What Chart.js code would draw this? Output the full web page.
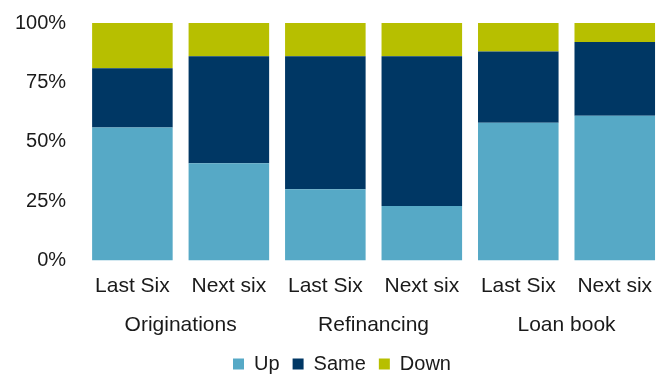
<!DOCTYPE html>
<html>
<head>
<meta charset="utf-8">
<script src="https://cdn.jsdelivr.net/npm/chart.js@4"></script>
<style>
  html, body { margin: 0; padding: 0; background: #fff; }
  #wrap { width: 668px; height: 374px; }
</style>
</head>
<body>
<div id="wrap"><canvas id="barChart"></canvas></div>
<script>
const periods = ['Last Six', 'Next six', 'Last Six', 'Next six', 'Last Six', 'Next six'];
const groups = ['Originations', 'Refinancing', 'Loan book'];
const upValues = [56, 41, 30, 23, 58, 61];
const sameValues = [25, 45, 56, 63, 30, 31];
const downValues = [19, 14, 14, 14, 12, 8];
const yTicks = [0, 25, 50, 75, 100];

Chart.defaults.font.family = '"Liberation Sans", Arial, sans-serif';
Chart.defaults.font.size = 20;
Chart.defaults.color = '#1a1a1a';

// nudge the legend a little to the right of centre
const legendShift = {
    id: 'legendShift',
    afterLayout(chart) {
        const lg = chart.legend;
        lg.left += 12;
        lg.right += 12;
    }
};

const ctxBar = document.getElementById('barChart').getContext('2d');
new Chart(ctxBar, {
    type: 'bar',
    data: {
        labels: periods,
        datasets: [
            { label: 'Up', data: upValues, backgroundColor: '#56a9c6' },
            { label: 'Same', data: sameValues, backgroundColor: '#003764' },
            { label: 'Down', data: downValues, backgroundColor: '#b7bf00' }
        ]
    },
    plugins: [legendShift],
    options: {
        responsive: true,
        maintainAspectRatio: false,
        animation: false,
        datasets: {
            bar: { categoryPercentage: 1, barPercentage: 0.835 }
        },
        layout: { padding: { top: 23, right: 5, left: -3, bottom: -10 } },
        plugins: {
            legend: {
                position: 'bottom',
                labels: { boxWidth: 11, boxHeight: 11, padding: 13 }
            },
            tooltip: { enabled: false }
        },
        scales: {
            x: {
                stacked: true,
                grid: { display: false, drawTicks: false },
                border: { display: false },
                ticks: { padding: 13, maxRotation: 0, font: { size: 21 } }
            },
            groupAxis: {
                type: 'category',
                position: 'bottom',
                labels: groups,
                grid: { display: false, drawTicks: false },
                border: { display: false },
                ticks: { padding: 1, maxRotation: 0, font: { size: 21 } },
                afterFit: axis => { axis.height += 2; }
            },
            y: {
                stacked: true,
                min: 0,
                max: 100,
                afterBuildTicks: axis => { axis.ticks = yTicks.map(v => ({ value: v })); },
                afterFit: axis => { axis.paddingTop = 0; },
                grid: { display: false, drawTicks: false },
                border: { display: false },
                ticks: { padding: 18, callback: v => v + '%' }
            }
        }
    }
});
</script>
</body>
</html>
